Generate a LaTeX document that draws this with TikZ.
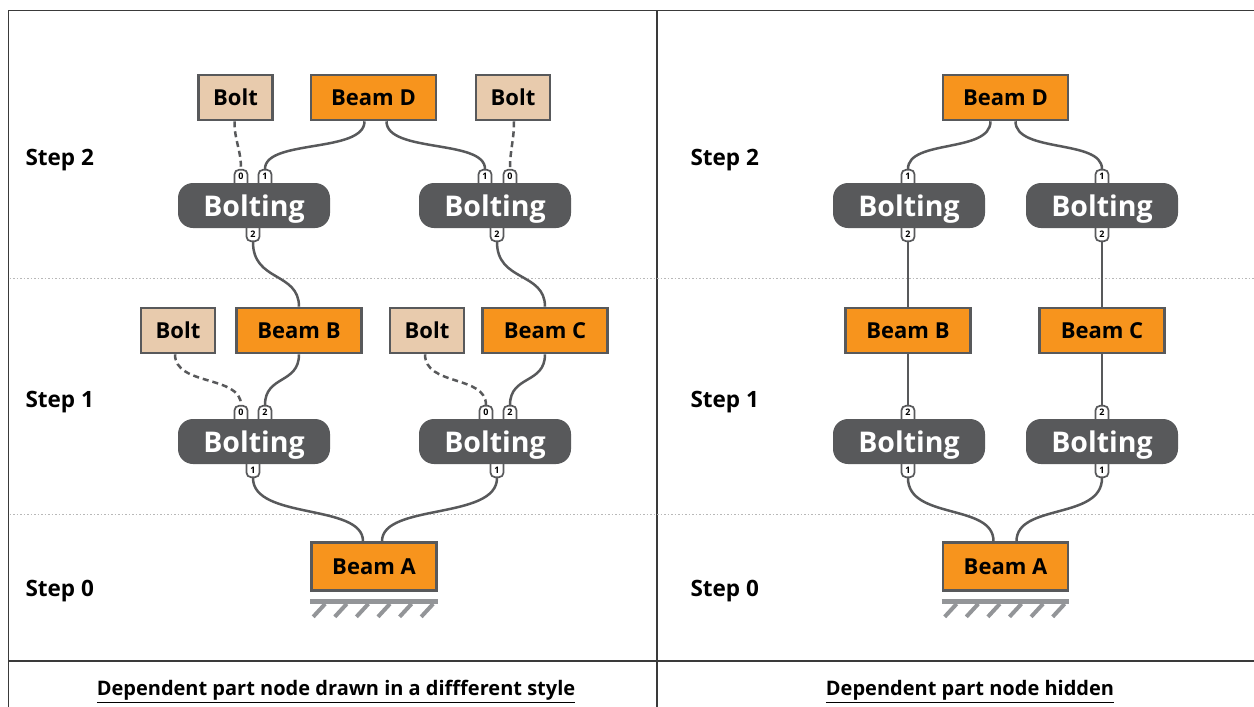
\documentclass[tikz,border=0pt]{standalone}
\usepackage{fontspec}
\setmainfont{Open Sans}
\usetikzlibrary{calc,backgrounds}

\definecolor{beamor}{HTML}{F7941D}
\definecolor{boltbg}{HTML}{E8CBAD}
\definecolor{edgegr}{HTML}{58595B}
\definecolor{opgr}{HTML}{58595B}
\definecolor{gndgr}{HTML}{939598}
\definecolor{framegr}{HTML}{3A3A3A}
\definecolor{dotgr}{HTML}{B8B8B8}

\tikzset{
  part/.style={rectangle, draw=edgegr, line width=2.6pt, minimum height=45pt,
    inner sep=0pt, font=\bfseries\fontsize{22}{22}\selectfont},
  beam/.style={part, fill=beamor, minimum width=125pt},
  bolt/.style={part, fill=boltbg, minimum width=74pt},
  bolting/.style={rectangle, rounded corners=15pt, fill=opgr, text=white,
    minimum width=152pt, minimum height=45pt, inner sep=0pt,
    text height=21pt, text depth=0pt,
    font=\bfseries\fontsize{28.5}{28.5}\selectfont},
  port/.style={rectangle, rounded corners=4.5pt, draw=edgegr, fill=white,
    line width=1.7pt, minimum width=13pt, minimum height=18pt, inner sep=0pt,
    font=\bfseries\fontsize{9}{9}\selectfont},
  porttop/.style={port, text height=6.5pt, text depth=5pt},
  portbot/.style={port, text height=11.5pt, text depth=0pt},
  wire/.style={draw=edgegr, line width=2.5pt},
  dependency/.style={wire, dash pattern=on 6pt off 4pt},
  steplabel/.style={anchor=west, text height=16pt, text depth=0pt,
    font=\bfseries\fontsize{22.5}{22.5}\selectfont},
  caption/.style={text height=14pt, text depth=0pt,
    font=\bfseries\fontsize{20}{20}\selectfont},
  framerule/.style={draw=framegr, line width=1.6pt},
  levelrule/.style={draw=dotgr, line width=1pt, dash pattern=on 1.5pt off 2pt},
  ground/.style={draw=gndgr, line width=5pt},
  hatch/.style={draw=gndgr, line width=4pt},
}

\begin{document}
\begin{tikzpicture}[x=1pt,y=-1pt]
\useasboundingbox (0,0) rectangle (1254,707);

% table frame
\draw[framerule] (1254,10.5) -- (8.5,10.5) -- (8.5,707);
\draw[framerule] (657,10.5) -- (657,707);
\draw[framerule] (8.5,661) -- (1254,661);

% level separators
\draw[levelrule] (9.5,278) -- (1254,278);
\draw[levelrule] (9.5,514) -- (1254,514);

% step labels
\node[steplabel] (s2l) at (22,157) {Step 2};
\node[steplabel] (s1l) at (22,399) {Step 1};
\node[steplabel] (s0l) at (22,588) {Step 0};
\node[steplabel] (s2r) at (687,157) {Step 2};
\node[steplabel] (s1r) at (687,399) {Step 1};
\node[steplabel] (s0r) at (687,588) {Step 0};

% captions
\node[caption] (capl) at (336,688.5) {\underline{Dependent part node drawn in a diffferent style}};
\node[caption] (capr) at (970,688.5) {\underline{Dependent part node hidden}};

% ---------------- left panel: dependent parts shown ----------------
\node[bolt] (boltTL) at (235.5,97.5) {Bolt};
\node[beam] (beamD) at (373.5,97.5) {Beam D};
\node[bolt] (boltTR) at (513,97.5) {Bolt};

\node[bolting] (opTL) at (254,205.5) {Bolting};
\node[bolting] (opTR) at (495,205.5) {Bolting};

\node[bolt] (boltML) at (178,330.5) {Bolt};
\node[beam] (beamB) at (299,330.5) {Beam B};
\node[bolt] (boltMR) at (427,330.5) {Bolt};
\node[beam] (beamC) at (545,330.5) {Beam C};

\node[bolting] (opML) at (254,441.5) {Bolting};
\node[bolting] (opMR) at (495,441.5) {Bolting};

\node[beam, minimum height=48pt] (beamA) at (374,566.5) {Beam A};

\begin{scope}[on background layer]
  \node[porttop] (tl0) at ($(opTL.north)+(-13,-4)$) {0};
  \node[porttop] (tl1) at ($(opTL.north)+(11,-4)$) {1};
  \node[portbot] (tl2) at ($(opTL.south)+(-1,4)$) {2};
  \node[porttop] (tr1) at ($(opTR.north)+(-10,-4)$) {1};
  \node[porttop] (tr0) at ($(opTR.north)+(15,-4)$) {0};
  \node[portbot] (tr2) at ($(opTR.south)+(2,4)$) {2};
  \node[porttop] (ml0) at ($(opML.north)+(-13,-4)$) {0};
  \node[porttop] (ml2) at ($(opML.north)+(11,-4)$) {2};
  \node[portbot] (ml1) at ($(opML.south)+(-1,4)$) {1};
  \node[porttop] (mr0) at ($(opMR.north)+(-9,-4)$) {0};
  \node[porttop] (mr2) at ($(opMR.north)+(15,-4)$) {2};
  \node[portbot] (mr1) at ($(opMR.south)+(2,4)$) {1};
\end{scope}

% step 2 connections
\draw[dependency] ([xshift=-1pt]boltTL.south) .. controls +(0,20) and +(0,-20) .. (tl0.north);
\draw[wire] ([xshift=-9pt]beamD.south) .. controls +(0,32) and +(0,-30) .. (tl1.north);
\draw[wire] ([xshift=13pt]beamD.south) .. controls +(0,32) and +(0,-30) .. (tr1.north);
\draw[dependency] ([xshift=1pt]boltTR.south) .. controls +(0,20) and +(0,-20) .. (tr0.north);
\draw[wire] (tl2.south) .. controls +(0,40) and +(0,-35) .. (beamB.north);
\draw[wire] (tr2.south) .. controls +(0,40) and +(0,-35) .. (beamC.north);

% step 1 connections
\draw[dependency] ([xshift=-3pt]boltML.south) .. controls +(0,32) and +(0,-30) .. (ml0.north);
\draw[wire] (beamB.south) .. controls +(0,30) and +(0,-30) .. (ml2.north);
\draw[dependency] ([xshift=-2pt]boltMR.south) .. controls +(0,32) and +(0,-30) .. (mr0.north);
\draw[wire] (beamC.south) .. controls +(0,30) and +(0,-30) .. (mr2.north);

% step 0 connections
\draw[wire] (ml1.south) .. controls +(0,42) and +(0,-38) .. ([xshift=-11pt]beamA.north);
\draw[wire] (mr1.south) .. controls +(0,42) and +(0,-38) .. ([xshift=8pt]beamA.north);

% fixed support under Beam A
\draw[ground] ([yshift=-10pt]beamA.south west) -- ([yshift=-10pt]beamA.south east);
\foreach \i in {0,...,5}
  \draw[hatch] ($(beamA.south west)+(15+21.6*\i,12)$) -- +(-12,13);

% ---------------- right panel: dependent parts hidden ----------------
\node[beam] (beamD2) at (1005.5,97.5) {Beam D};

\node[bolting] (opTL2) at (909,205.5) {Bolting};
\node[bolting] (opTR2) at (1102,205.5) {Bolting};

\node[beam] (beamB2) at (908,330.5) {Beam B};
\node[beam] (beamC2) at (1102,330.5) {Beam C};

\node[bolting] (opML2) at (909,441.5) {Bolting};
\node[bolting] (opMR2) at (1102,441.5) {Bolting};

\node[beam, minimum height=48pt] (beamA2) at (1005.5,566.5) {Beam A};

\begin{scope}[on background layer]
  \node[porttop] (tl1b) at ($(opTL2.north)+(-1,-4)$) {1};
  \node[portbot] (tl2b) at ($(opTL2.south)+(-1,4)$) {2};
  \node[porttop] (tr1b) at ($(opTR2.north)+(0,-4)$) {1};
  \node[portbot] (tr2b) at ($(opTR2.south)+(0,4)$) {2};
  \node[porttop] (ml2b) at ($(opML2.north)+(-1,-4)$) {2};
  \node[portbot] (ml1b) at ($(opML2.south)+(-1,4)$) {1};
  \node[porttop] (mr2b) at ($(opMR2.north)+(0,-4)$) {2};
  \node[portbot] (mr1b) at ($(opMR2.south)+(0,4)$) {1};
\end{scope}

\draw[wire] ([xshift=-15pt]beamD2.south) .. controls +(0,32) and +(0,-30) .. (tl1b.north);
\draw[wire] ([xshift=10pt]beamD2.south) .. controls +(0,32) and +(0,-30) .. (tr1b.north);
\draw[wire] (tl2b.south) -- (tl2b.south |- beamB2.north);
\draw[wire] (tr2b.south) -- (tr2b.south |- beamC2.north);
\draw[wire] (beamB2.south -| ml2b.north) -- (ml2b.north);
\draw[wire] (beamC2.south -| mr2b.north) -- (mr2b.north);
\draw[wire] (ml1b.south) .. controls +(0,42) and +(0,-38) .. ([xshift=-12pt]beamA2.north);
\draw[wire] (mr1b.south) .. controls +(0,42) and +(0,-38) .. ([xshift=11pt]beamA2.north);

\draw[ground] ([yshift=-10pt]beamA2.south west) -- ([yshift=-10pt]beamA2.south east);
\foreach \i in {0,...,5}
  \draw[hatch] ($(beamA2.south west)+(15+21.6*\i,12)$) -- +(-12,13);
\end{tikzpicture}
\end{document}
